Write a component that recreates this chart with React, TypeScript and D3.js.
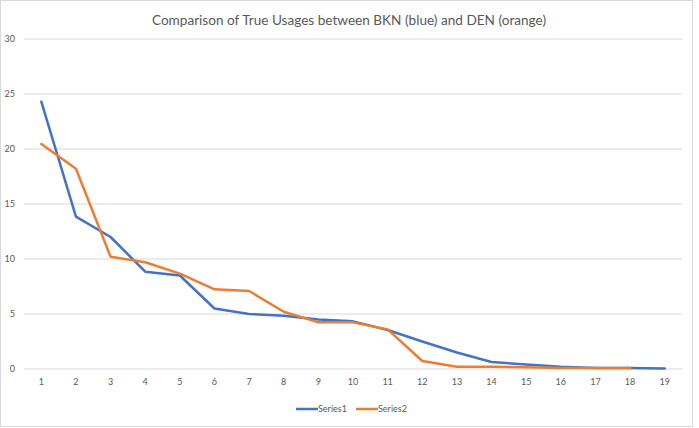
import React, { useEffect, useRef } from "react";
import * as d3 from "d3";

const categories = ["1","2","3","4","5","6","7","8","9","10","11","12","13","14","15","16","17","18","19"];
const series1 = [24.3, 13.85, 12.0, 8.85, 8.5, 5.5, 5.0, 4.85, 4.5, 4.33, 3.55, 2.5, 1.5, 0.64, 0.4, 0.2, 0.1, 0.08, 0.05];
const series2 = [20.45, 18.2, 10.2, 9.7, 8.67, 7.24, 7.09, 5.2, 4.24, 4.24, 3.6, 0.73, 0.2, 0.2, 0.15, 0.1, 0.08, 0.08];
const yTicks = [0, 5, 10, 15, 20, 25, 30];
const seriesNames = ["Series1", "Series2"];
const colors = ["#4472C4", "#ED7D31"];
const title = "Comparison of True Usages between BKN (blue) and DEN (orange)";

const W = 699, H = 428;
const plot = { left: 24, right: 682, top: 39, bottom: 369 };
const font = "Lato, 'Open Sans', sans-serif";

export default function App() {
  const ref = useRef<SVGSVGElement>(null);
  useEffect(() => {
    const svg = d3.select(ref.current);
    svg.selectAll("*").remove();
    const x = d3.scalePoint<string>().domain(categories).range([plot.left, plot.right]).padding(0.5);
    const y = d3.scaleLinear().domain([0, 30]).range([plot.bottom, plot.top]);

    svg.append("rect").attr("x", 0.5).attr("y", 0.5).attr("width", 692).attr("height", 426)
      .attr("fill", "#fff").attr("stroke", "#D9D9D9");

    svg.append("text").attr("x", 349).attr("y", 25).attr("text-anchor", "middle")
      .attr("font-family", font).attr("font-size", 13.6).attr("fill", "#595959").text(title);

    const g = svg.append("g");
    g.selectAll("line.grid").data(yTicks).enter().append("line")
      .attr("x1", plot.left).attr("x2", plot.right)
      .attr("y1", d => y(d)).attr("y2", d => y(d))
      .attr("stroke", "#D9D9D9").attr("stroke-width", 1);
    g.selectAll("text.yt").data(yTicks).enter().append("text")
      .attr("x", 15).attr("y", d => y(d) + 3).attr("text-anchor", "end")
      .attr("font-family", font).attr("font-size", 9).attr("fill", "#595959").text(d => String(d));
    g.selectAll("text.xt").data(categories).enter().append("text")
      .attr("x", d => x(d)!).attr("y", 385).attr("text-anchor", "middle")
      .attr("font-family", font).attr("font-size", 9).attr("fill", "#595959").text(d => d);

    const line = d3.line<number>().x((_, i) => x(categories[i])!).y(d => y(d));
    [series1, series2].forEach((s, i) => {
      g.append("path").attr("d", line(s)!).attr("fill", "none")
        .attr("stroke", colors[i]).attr("stroke-width", 2.5).attr("stroke-linejoin", "round").attr("stroke-linecap", "round");
    });

    const legX = [296, 356];
    seriesNames.forEach((n, i) => {
      g.append("line").attr("x1", legX[i]).attr("x2", legX[i] + 22).attr("y1", 409).attr("y2", 409)
        .attr("stroke", colors[i]).attr("stroke-width", 2.5);
      g.append("text").attr("x", legX[i] + 22).attr("y", 412).attr("font-family", font)
        .attr("font-size", 9).attr("fill", "#595959").text(n);
    });
  }, []);
  return (
    <div style={{ position: "absolute", left: 0, top: 0 }}>
      <svg ref={ref} width={W} height={H} style={{ display: "block" }} />
    </div>
  );
}
